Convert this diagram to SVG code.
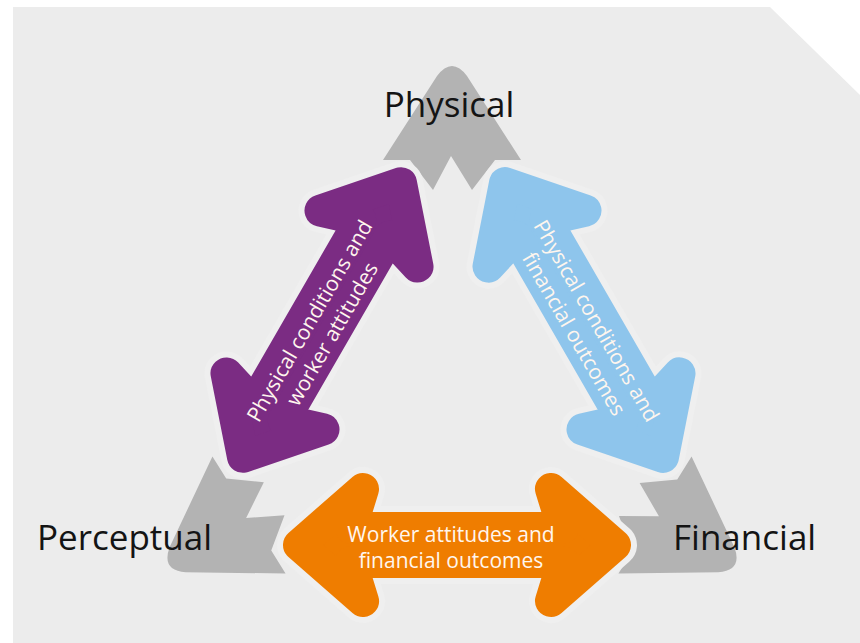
<svg xmlns="http://www.w3.org/2000/svg" width="860" height="643" viewBox="0 0 860 643">
<style>
.grey{fill:#b3b3b3}
.halo{fill:#efefef;stroke:#efefef;stroke-width:44;stroke-linejoin:round}
.body{stroke-width:32;stroke-linejoin:round}
.purple{fill:#7b2c83;stroke:#7b2c83}
.blue{fill:#8ec5ec;stroke:#8ec5ec}
.orange{fill:#ef7d00;stroke:#ef7d00}
.lbl{font-family:"Open Sans","Noto Sans","Liberation Sans",sans-serif;font-size:35px;font-weight:500;fill:#141414}
.atxt{font-family:"Open Sans","Noto Sans","Liberation Sans",sans-serif;font-size:21px;fill:#fff6ee;text-anchor:middle}
</style>
<defs>
<path id="head" d="M-69,0 L-15,-84 Q0,-104 15,-84 L69,0 L43,0 L20,30 L-1,-4 L-19,30 L-42,0 Z"/>
<path id="arrow" d="M158,0 L94,-56 L106,-17 L-106,-17 L-94,-56 L-158,0 L-94,56 L-106,17 L106,17 L94,56 Z"/>
</defs>
<rect width="860" height="643" fill="#ffffff"/>
<polygon points="13,7 770,7 860,95 860,643 13,643" fill="#ececec"/>
<g id="node-physical">
<use href="#head" class="grey" transform="translate(452,160)"/>
<text class="lbl" x="449" y="117" text-anchor="middle">Physical</text>
</g>
<g id="node-perceptual">
<use href="#head" class="grey" transform="translate(249,515) rotate(-122)"/>
<text class="lbl" x="37" y="550">Perceptual</text>
</g>
<g id="node-financial">
<use href="#head" class="grey" transform="translate(655,515) rotate(122)"/>
<text class="lbl" x="673" y="550">Financial</text>
</g>
<g id="connectors">
<g id="conn-physical-perceptual" transform="translate(322,320) rotate(-60)">
<use href="#arrow" class="halo"/>
<use href="#arrow" class="body purple"/>
<text class="atxt" x="-7" y="-3">Physical conditions and</text>
<text class="atxt" x="-7" y="23">worker attitudes</text>
</g>
<g id="conn-physical-financial" transform="translate(584,320) rotate(60)">
<use href="#arrow" class="halo"/>
<use href="#arrow" class="body blue"/>
<text class="atxt" x="7" y="-3">Physical conditions and</text>
<text class="atxt" x="7" y="23">financial outcomes</text>
</g>
<g id="conn-perceptual-financial" transform="translate(457,545)">
<use href="#arrow" class="halo"/>
<use href="#arrow" class="body orange"/>
<text class="atxt" x="-6" y="-3">Worker attitudes and</text>
<text class="atxt" x="-6" y="23">financial outcomes</text>
</g>
</g>
</svg>
